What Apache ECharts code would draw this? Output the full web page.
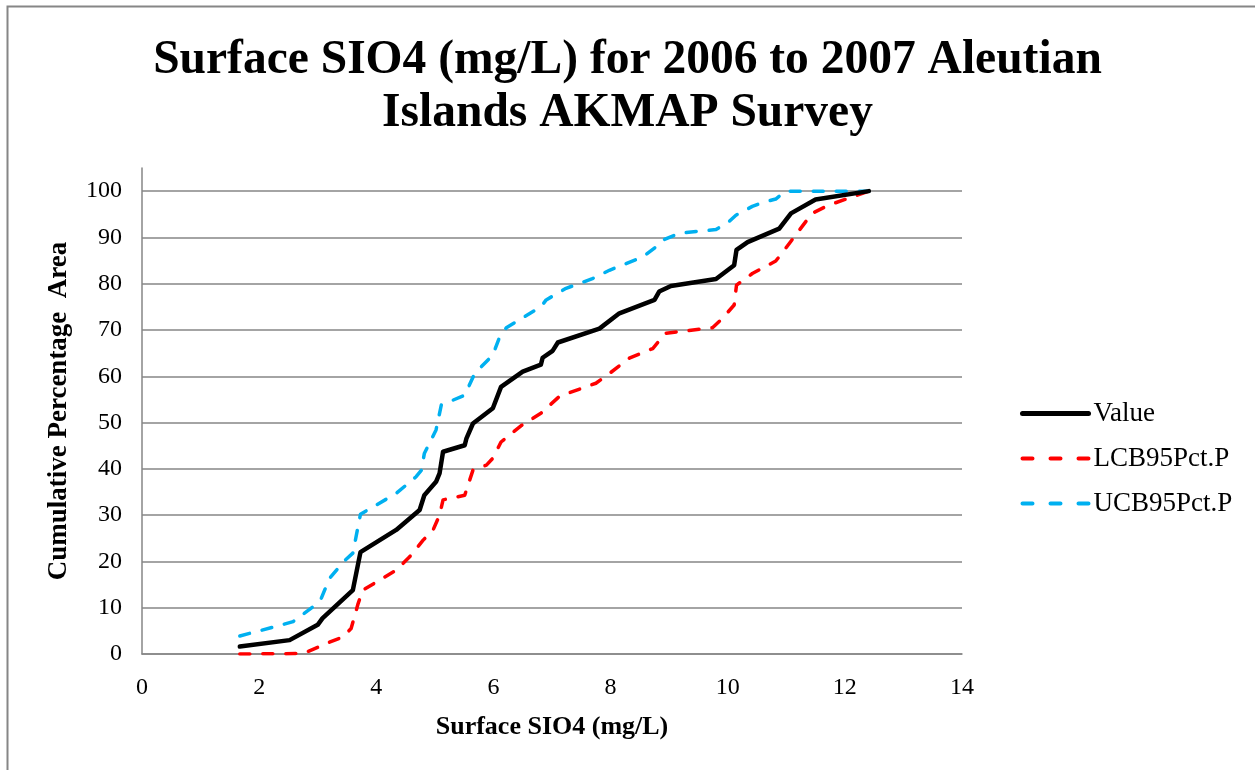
<!DOCTYPE html>
<html>
<head>
<meta charset="utf-8">
<script src="https://cdn.jsdelivr.net/npm/echarts@6/dist/echarts.min.js"></script>
<style>
html,body{margin:0;padding:0;background:#fff;}
#chart{width:1255px;height:770px;}
</style>
</head>
<body>
<div id="chart"></div>
<script>
const titleText = "Surface SIO4 (mg/L) for 2006 to 2007 Aleutian\nIslands AKMAP Survey";
const xAxisName = "Surface SIO4 (mg/L)";
const yAxisName = "Cumulative Percentage  Area";
const seriesNames = ["Value", "LCB95Pct.P", "UCB95Pct.P"];

const valueX = [1.67,2.52,3.0,3.08,3.6,3.73,4.34,4.74,4.82,5.02,5.08,5.14,5.51,5.54,5.65,5.99,6.13,6.50,6.81,6.84,7.01,7.1,7.81,8.15,8.75,8.83,9.03,9.80,10.11,10.15,10.34,10.88,11.08,11.5,12.41];
const valueY = [1.6,3.0,6.3,7.7,13.8,22.0,26.8,31.1,34.3,37.2,39.0,43.7,45.1,46.6,49.8,53.1,57.7,61.0,62.5,64.0,65.5,67.3,70.3,73.6,76.5,78.3,79.5,81.0,84.0,87.3,89.0,91.9,95.2,98.2,100];

const lcbX = [1.67,2.75,3.03,3.15,3.43,3.57,3.69,3.77,4.34,4.57,4.8,4.97,5.08,5.14,5.51,5.65,5.88,5.99,6.13,6.47,6.81,7.13,7.75,7.98,8.32,8.72,8.94,9.74,9.91,10.11,10.15,10.42,10.82,10.92,11.44,11.73,12.41];
const lcbY = [0,0.1,1.6,2.3,3.7,5.5,10.9,13.8,18.1,21.0,24.6,26.8,30.0,33.3,34.3,39.7,40.8,42.3,45.8,49.3,52.0,55.7,58.5,60.6,63.9,66.0,69.3,70.5,72.5,75.4,79.7,82.2,84.9,86.5,95.2,97.0,100];

const ucbX = [1.67,2.30,2.58,2.92,3.06,3.20,3.43,3.60,3.73,4.34,4.68,4.77,4.82,5.02,5.11,5.51,5.68,5.99,6.10,6.22,6.81,6.90,7.24,7.69,7.98,8.55,8.77,8.89,9.17,9.80,10.02,10.14,10.42,10.56,10.82,10.99,12.41];
const ucbY = [3.9,6.0,7.0,10.2,12.0,16.3,19.8,21.8,30.2,34.7,38.3,39.7,43.3,48.4,53.8,55.9,60.6,64.6,68.3,70.5,75.0,76.5,79.0,81.1,82.9,85.8,87.9,89.4,90.9,91.7,93.4,94.8,96.7,97.4,98.3,100,100];

const xTicks = {min: 0, max: 14, interval: 2};
const yTicks = {min: 0, max: 105, interval: 10, labelMax: 100};

function pairs(xs, ys){ return xs.map((x,i)=>[x, ys[i]]); }

const FONT = "'Liberation Serif','Times New Roman',serif";
const DASH = [10, 13];
const LEGEND_DASH = [10, 18];
const chart = echarts.init(document.getElementById('chart'), null, {renderer:'canvas'});
chart.setOption({
  animation: false,
  backgroundColor: '#ffffff',
  graphic: [{
    type: 'rect', left: 5, top: 4,
    shape: {width: 1400, height: 900},
    style: {fill: 'none', stroke: '#868686', lineWidth: 2},
    silent: true, z: -1
  }],
  title: {
    text: titleText,
    left: 'center',
    top: 29,
    textStyle: {fontFamily: FONT, fontWeight: 'bold', fontSize: 47.5, lineHeight: 53, color: '#000'}
  },
  legend: {
    orient: 'vertical',
    left: 1015,
    top: 395,
    itemWidth: 66,
    itemHeight: 14,
    itemGap: 18,
    itemStyle: {opacity: 0},
    textStyle: {fontFamily: FONT, fontSize: 27, color: '#000', padding: [0,0,0,0]},
    data: [
      {name: seriesNames[0], lineStyle: {width: 5, color: '#000000', type: 'solid', cap: 'round'}},
      {name: seriesNames[1], lineStyle: {width: 4, color: '#FF0000', type: LEGEND_DASH, cap: 'round'}},
      {name: seriesNames[2], lineStyle: {width: 4, color: '#00B0F0', type: LEGEND_DASH, cap: 'round'}}
    ]
  },
  grid: {left: 142, right: 293, top: 168, bottom: 116, containLabel: false},
  xAxis: {
    type: 'value',
    min: xTicks.min, max: xTicks.max, interval: xTicks.interval,
    name: xAxisName,
    nameLocation: 'middle',
    nameGap: 60,
    nameTextStyle: {fontFamily: FONT, fontWeight: 'bold', fontSize: 26, color: '#000'},
    axisLine: {show: true, lineStyle: {color: '#868686', width: 1.5}},
    axisTick: {show: false},
    axisLabel: {fontFamily: FONT, fontSize: 24, color: '#000', margin: 22},
    splitLine: {show: false}
  },
  yAxis: {
    type: 'value',
    min: yTicks.min, max: yTicks.max, interval: yTicks.interval,
    name: yAxisName,
    nameLocation: 'middle',
    nameGap: 69,
    nameTextStyle: {fontFamily: FONT, fontWeight: 'bold', fontSize: 27, color: '#000'},
    axisLine: {show: true, lineStyle: {color: '#868686', width: 1.5}},
    axisTick: {show: false},
    axisLabel: {
      fontFamily: FONT, fontSize: 24, color: '#000', margin: 20,
      showMaxLabel: false,
      formatter: v => (v <= yTicks.labelMax ? String(v) : '')
    },
    splitLine: {show: true, showMaxLine: false, lineStyle: {color: '#868686', width: 1.5}}
  },
  series: [
    {
      name: seriesNames[0], type: 'line', data: pairs(valueX, valueY),
      showSymbol: false, symbol: 'none',
      lineStyle: {color: '#000000', width: 4.5, cap: 'round', join: 'round'},
      itemStyle: {color: '#000000'}, z: 3
    },
    {
      name: seriesNames[1], type: 'line', data: pairs(lcbX, lcbY),
      showSymbol: false, symbol: 'none',
      lineStyle: {color: '#FF0000', width: 3.5, type: DASH, cap: 'round', join: 'round'},
      itemStyle: {color: '#FF0000'}, z: 2
    },
    {
      name: seriesNames[2], type: 'line', data: pairs(ucbX, ucbY),
      showSymbol: false, symbol: 'none',
      lineStyle: {color: '#00B0F0', width: 3.5, type: DASH, cap: 'round', join: 'round'},
      itemStyle: {color: '#00B0F0'}, z: 2
    }
  ]
});
</script>
</body>
</html>
